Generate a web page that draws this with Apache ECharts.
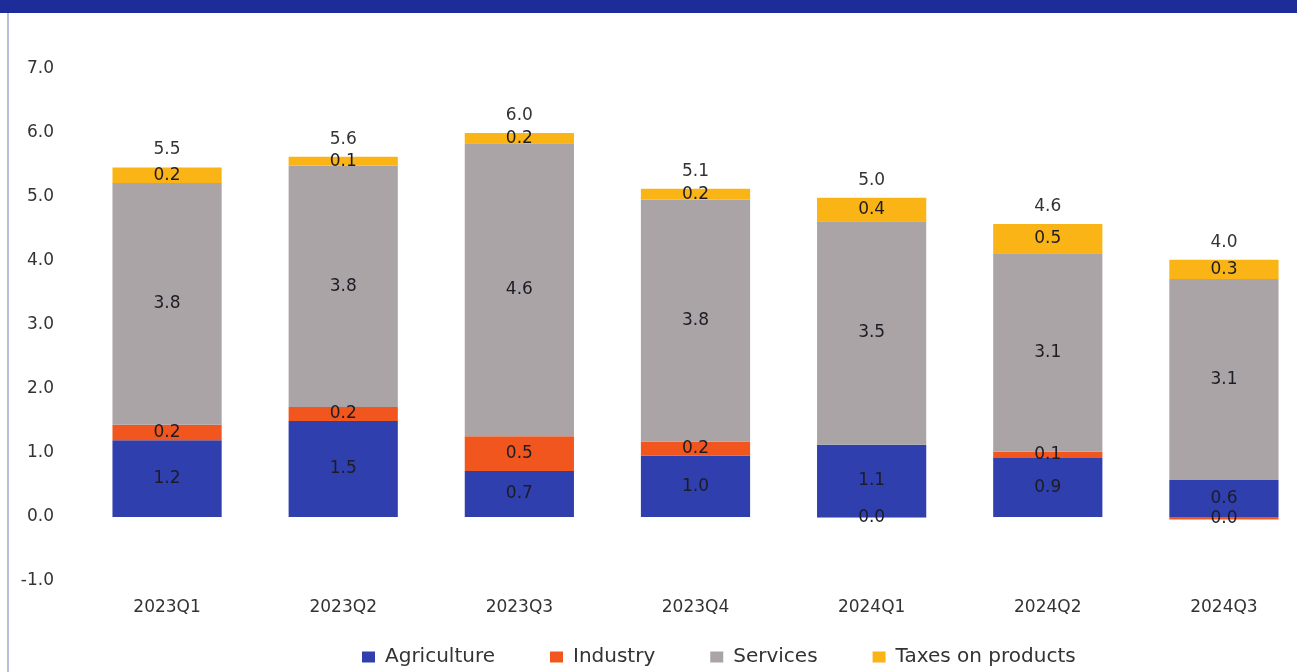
<!DOCTYPE html>
<html>
<head>
<meta charset="utf-8">
<script src="https://cdn.jsdelivr.net/npm/echarts@6/dist/echarts.min.js"></script>
<style>
  html, body { margin: 0; padding: 0; background: #ffffff; }
  #chart { width: 1297px; height: 672px; }
</style>
</head>
<body>
<div id="chart"></div>
<script>
// Quarterly contributions to growth, percentage points
const quarters = ['2023Q1', '2023Q2', '2023Q3', '2023Q4', '2024Q1', '2024Q2', '2024Q3'];
const agriculture = [1.2, 1.5, 0.72, 0.96, 1.13, 0.92, 0.58];
const industry = [0.24, 0.22, 0.54, 0.22, -0.01, 0.10, -0.04];
const services = [3.78, 3.77, 4.58, 3.78, 3.49, 3.10, 3.14];
const taxes = [0.24, 0.14, 0.16, 0.17, 0.37, 0.46, 0.30];
const yTicks = [-1, 0, 1, 2, 3, 4, 5, 6, 7];

const FONT = 'DejaVu Sans';

function fmt1(v) {
  const r = Math.round(v * 10) / 10;
  return (r === 0 ? 0 : r).toFixed(1);
}

const totals = quarters.map((_, i) => agriculture[i] + industry[i] + services[i] + taxes[i]);

const segLabel = {
  show: true,
  position: 'inside',
  fontFamily: FONT,
  fontSize: 17,
  color: '#1c1c24',
  formatter: p => fmt1(p.value)
};

function segment(name, data, color) {
  return {
    name: name,
    type: 'bar',
    stack: 'gdp',
    data: data,
    barWidth: '62%',
    itemStyle: { color: color },
    label: segLabel,
    emphasis: { disabled: true }
  };
}

const chart = echarts.init(document.getElementById('chart'), null, { renderer: 'canvas' });

chart.setOption({
  animation: false,
  backgroundColor: '#ffffff',
  graphic: [
    { type: 'rect', left: 0, top: 0, shape: { width: 1297, height: 13 }, style: { fill: '#1c2c98' } },
    { type: 'rect', left: 7, top: 13, shape: { width: 2, height: 659 }, style: { fill: '#b4c0de' } }
  ],
  grid: { left: 79, right: -15, top: 69, bottom: 91, containLabel: false, outerBoundsMode: 'none' },
  legend: {
    data: ['Agriculture', 'Industry', 'Services', 'Taxes on products'],
    left: 357,
    top: 642,
    itemWidth: 13,
    itemHeight: 11,
    itemGap: 55,
    icon: 'rect',
    textStyle: { fontFamily: FONT, fontSize: 20, color: '#333333', padding: [0, 0, 0, 5] }
  },
  xAxis: {
    type: 'category',
    data: quarters,
    axisLine: { show: false, onZero: false },
    axisTick: { show: false },
    axisLabel: { fontFamily: FONT, fontSize: 17, color: '#333333', margin: 18 }
  },
  yAxis: {
    type: 'value',
    min: yTicks[0],
    max: yTicks[yTicks.length - 1],
    interval: 1,
    splitLine: { show: false },
    axisLine: { show: false },
    axisTick: { show: false },
    axisLabel: { fontFamily: FONT, fontSize: 17, color: '#333333', margin: 25, formatter: v => v.toFixed(1) }
  },
  series: [
    segment('Agriculture', agriculture, '#2f3fae'),
    segment('Industry', industry, '#f0561e'),
    segment('Services', services, '#aba4a7'),
    segment('Taxes on products', taxes, '#fbb416'),
    {
      name: 'Total',
      type: 'bar',
      stack: 'gdp',
      data: quarters.map(() => 0),
      barWidth: '62%',
      itemStyle: { color: 'rgba(0,0,0,0)' },
      label: {
        show: true,
        position: 'top',
        distance: 9,
        fontFamily: FONT,
        fontSize: 17,
        color: '#333333',
        formatter: p => fmt1(totals[p.dataIndex])
      },
      emphasis: { disabled: true },
      tooltip: { show: false }
    }
  ]
});
</script>
</body>
</html>
